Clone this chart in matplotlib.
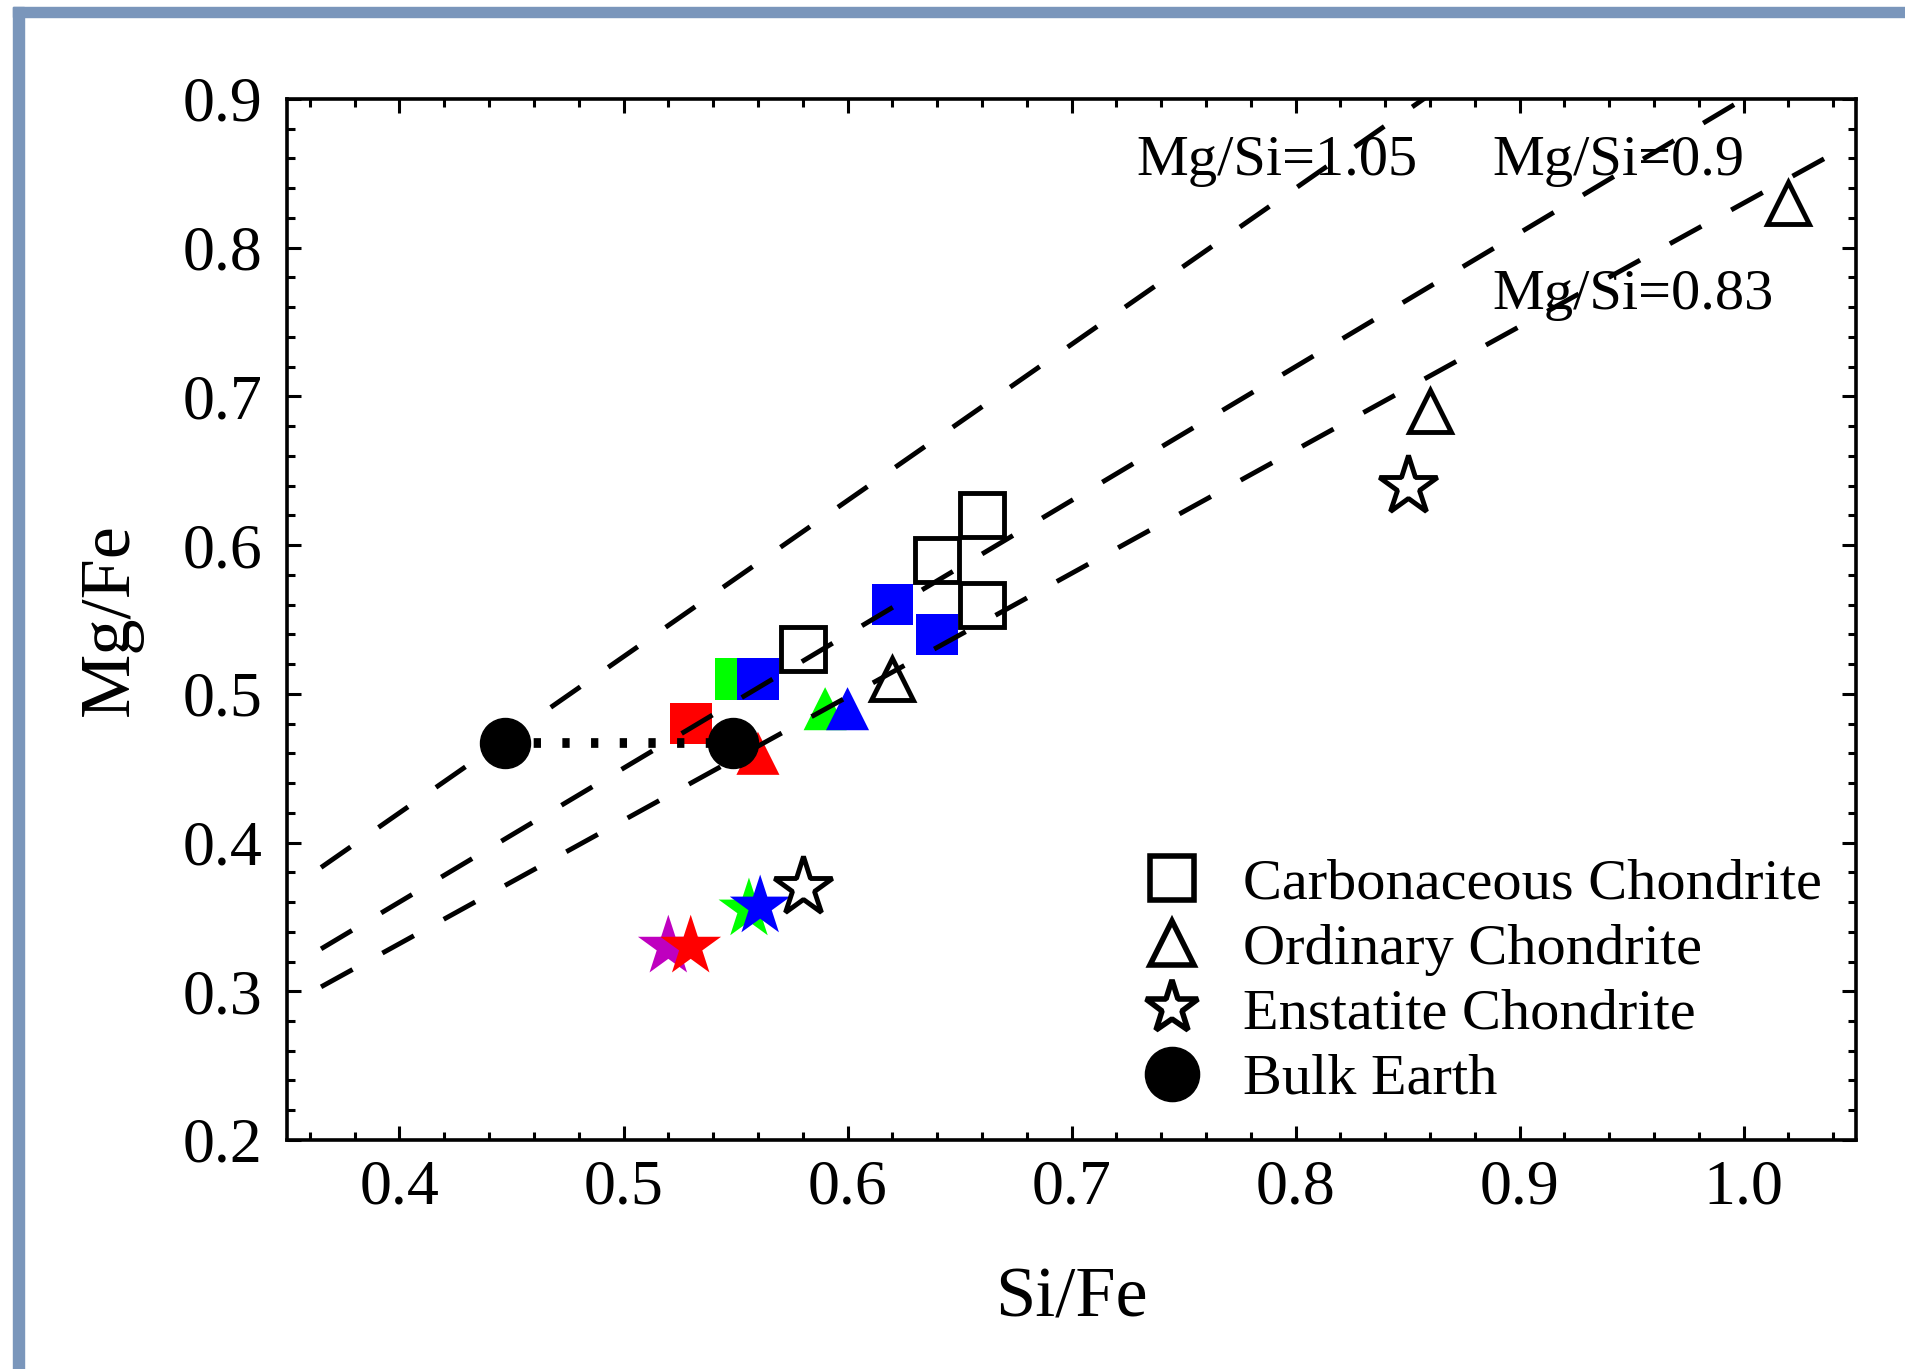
import numpy as np
import matplotlib
matplotlib.use('Agg')
import matplotlib.pyplot as plt
from matplotlib.lines import Line2D
from matplotlib.patches import Rectangle
from matplotlib.ticker import MultipleLocator

plt.rcParams['font.family'] = ['Liberation Serif', 'DejaVu Serif']

# open symbols: chondrite groups
cc_si = [0.58, 0.64, 0.66, 0.66]
cc_mg = [0.53, 0.59, 0.62, 0.56]
oc_si = [0.62, 0.86, 1.02]
oc_mg = [0.51, 0.69, 0.83]
ec_si = [0.58, 0.85]
ec_mg = [0.37, 0.64]
earth_si = [0.447, 0.549]
earth_mg = [0.467, 0.467]

# coloured points (drawn in this order)
sq_colors = ['#00FF00', '#0000FF', '#FF0000', '#0000FF', '#0000FF']
sq_si = [0.55, 0.56, 0.53, 0.62, 0.64]
sq_mg = [0.51, 0.51, 0.48, 0.56, 0.54]
tri_colors = ['#FF0000', '#00FF00', '#0000FF']
tri_si = [0.56, 0.59, 0.60]
tri_mg = [0.46, 0.49, 0.49]
star_colors = ['#BF00BF', '#FF0000', '#00FF00', '#0000FF']
star_si = [0.52, 0.53, 0.556, 0.561]
star_mg = [0.33, 0.33, 0.355, 0.357]

# constant Mg/Si lines
mgsi_ratios = [1.05, 0.9, 0.83]
mgsi_labels = ['Mg/Si=1.05', 'Mg/Si=0.9', 'Mg/Si=0.83']
line_si = np.array([0.365, 1.04])

legend_labels = ['Carbonaceous Chondrite', 'Ordinary Chondrite',
                 'Enstatite Chondrite', 'Bulk Earth']

fig = plt.figure(figsize=(19.05, 13.69), dpi=100)
ax = fig.add_axes([0.1509, 0.1673, 0.8232, 0.7604])

# slide frame pieces (top and left)
frame_col = '#7A96BB'
fig.patches.append(Rectangle((13 / 1905, 0), 11 / 1905, 1 - 7 / 1369,
                             transform=fig.transFigure, color=frame_col, zorder=0))
fig.patches.append(Rectangle((13 / 1905, 1 - 17 / 1369), 1 - 13 / 1905, 10 / 1369,
                             transform=fig.transFigure, color=frame_col, zorder=0))

# coloured markers
ax.scatter(sq_si, sq_mg, s=30**2, marker='s', c=sq_colors, linewidths=0, zorder=2)
ax.scatter(tri_si, tri_mg, s=31**2, marker='^', c=tri_colors, linewidths=0, zorder=2)
ax.scatter(star_si, star_mg, s=46**2, marker='*', c=star_colors, linewidths=0, zorder=2)

# open markers
ax.plot(cc_si, cc_mg, ls='none', marker='s', ms=31, mfc='none', mec='k', mew=3.5, zorder=2)
ax.plot(oc_si, oc_mg, ls='none', marker='^', ms=30, mfc='none', mec='k', mew=3.5, zorder=2)
ax.plot(ec_si, ec_mg, ls='none', marker='*', ms=44, mfc='none', mec='k', mew=3.5, zorder=2)
ax.plot(earth_si, earth_mg, ls='none', marker='o', ms=36, color='k', zorder=2.5)

# bulk earth connector
ax.plot(earth_si, earth_mg, color='k', lw=7, dashes=(0.75, 2.2), zorder=3)

# Mg/Si lines
for r in mgsi_ratios:
    ax.plot(line_si, r * line_si, color='k', lw=3.5, dashes=(7.4, 7.0), zorder=3)

label_pos = [(0.729, 0.849), (0.888, 0.849), (0.888, 0.759)]
for (tx, ty), lab in zip(label_pos, mgsi_labels):
    ax.text(tx, ty, lab, fontsize=42, ha='left', va='baseline', zorder=4)

ax.set_xlim(0.35, 1.05)
ax.set_ylim(0.2, 0.9)
ax.xaxis.set_major_locator(MultipleLocator(0.1))
ax.xaxis.set_minor_locator(MultipleLocator(0.02))
ax.yaxis.set_major_locator(MultipleLocator(0.1))
ax.yaxis.set_minor_locator(MultipleLocator(0.02))
ax.xaxis.set_major_formatter(matplotlib.ticker.FormatStrFormatter('%.1f'))
ax.yaxis.set_major_formatter(matplotlib.ticker.FormatStrFormatter('%.1f'))
ax.tick_params(which='both', direction='in', top=True, right=True, width=2.2)
ax.tick_params(which='major', length=10, labelsize=46)
ax.tick_params(which='minor', length=5.8)
ax.tick_params(axis='x', which='major', pad=14)
ax.tick_params(axis='y', which='major', pad=18)
for sp in ax.spines.values():
    sp.set_linewidth(2.6)

ax.set_xlabel('Si/Fe', fontsize=52)
ax.xaxis.label.set_va('baseline')
ax.xaxis.set_label_coords(0.5, -0.170)
ax.set_ylabel('Mg/Fe', fontsize=52)
ax.yaxis.label.set_va('baseline')
ax.yaxis.set_label_coords(-0.1017, 0.5)

handles = [
    Line2D([], [], ls='none', marker='s', ms=31, mfc='none', mec='k', mew=4),
    Line2D([], [], ls='none', marker='^', ms=31, mfc='none', mec='k', mew=4),
    Line2D([], [], ls='none', marker='*', ms=40, mfc='none', mec='k', mew=4),
    Line2D([], [], ls='none', marker='o', ms=39, color='k'),
]
ax.legend(handles, legend_labels, loc='upper left', bbox_to_anchor=(0.5456, 0.271),
          frameon=False, fontsize=42, handlelength=1.0, handletextpad=0.72,
          borderpad=0, borderaxespad=0, labelspacing=0.21)

plt.savefig('out.png', dpi=100)
